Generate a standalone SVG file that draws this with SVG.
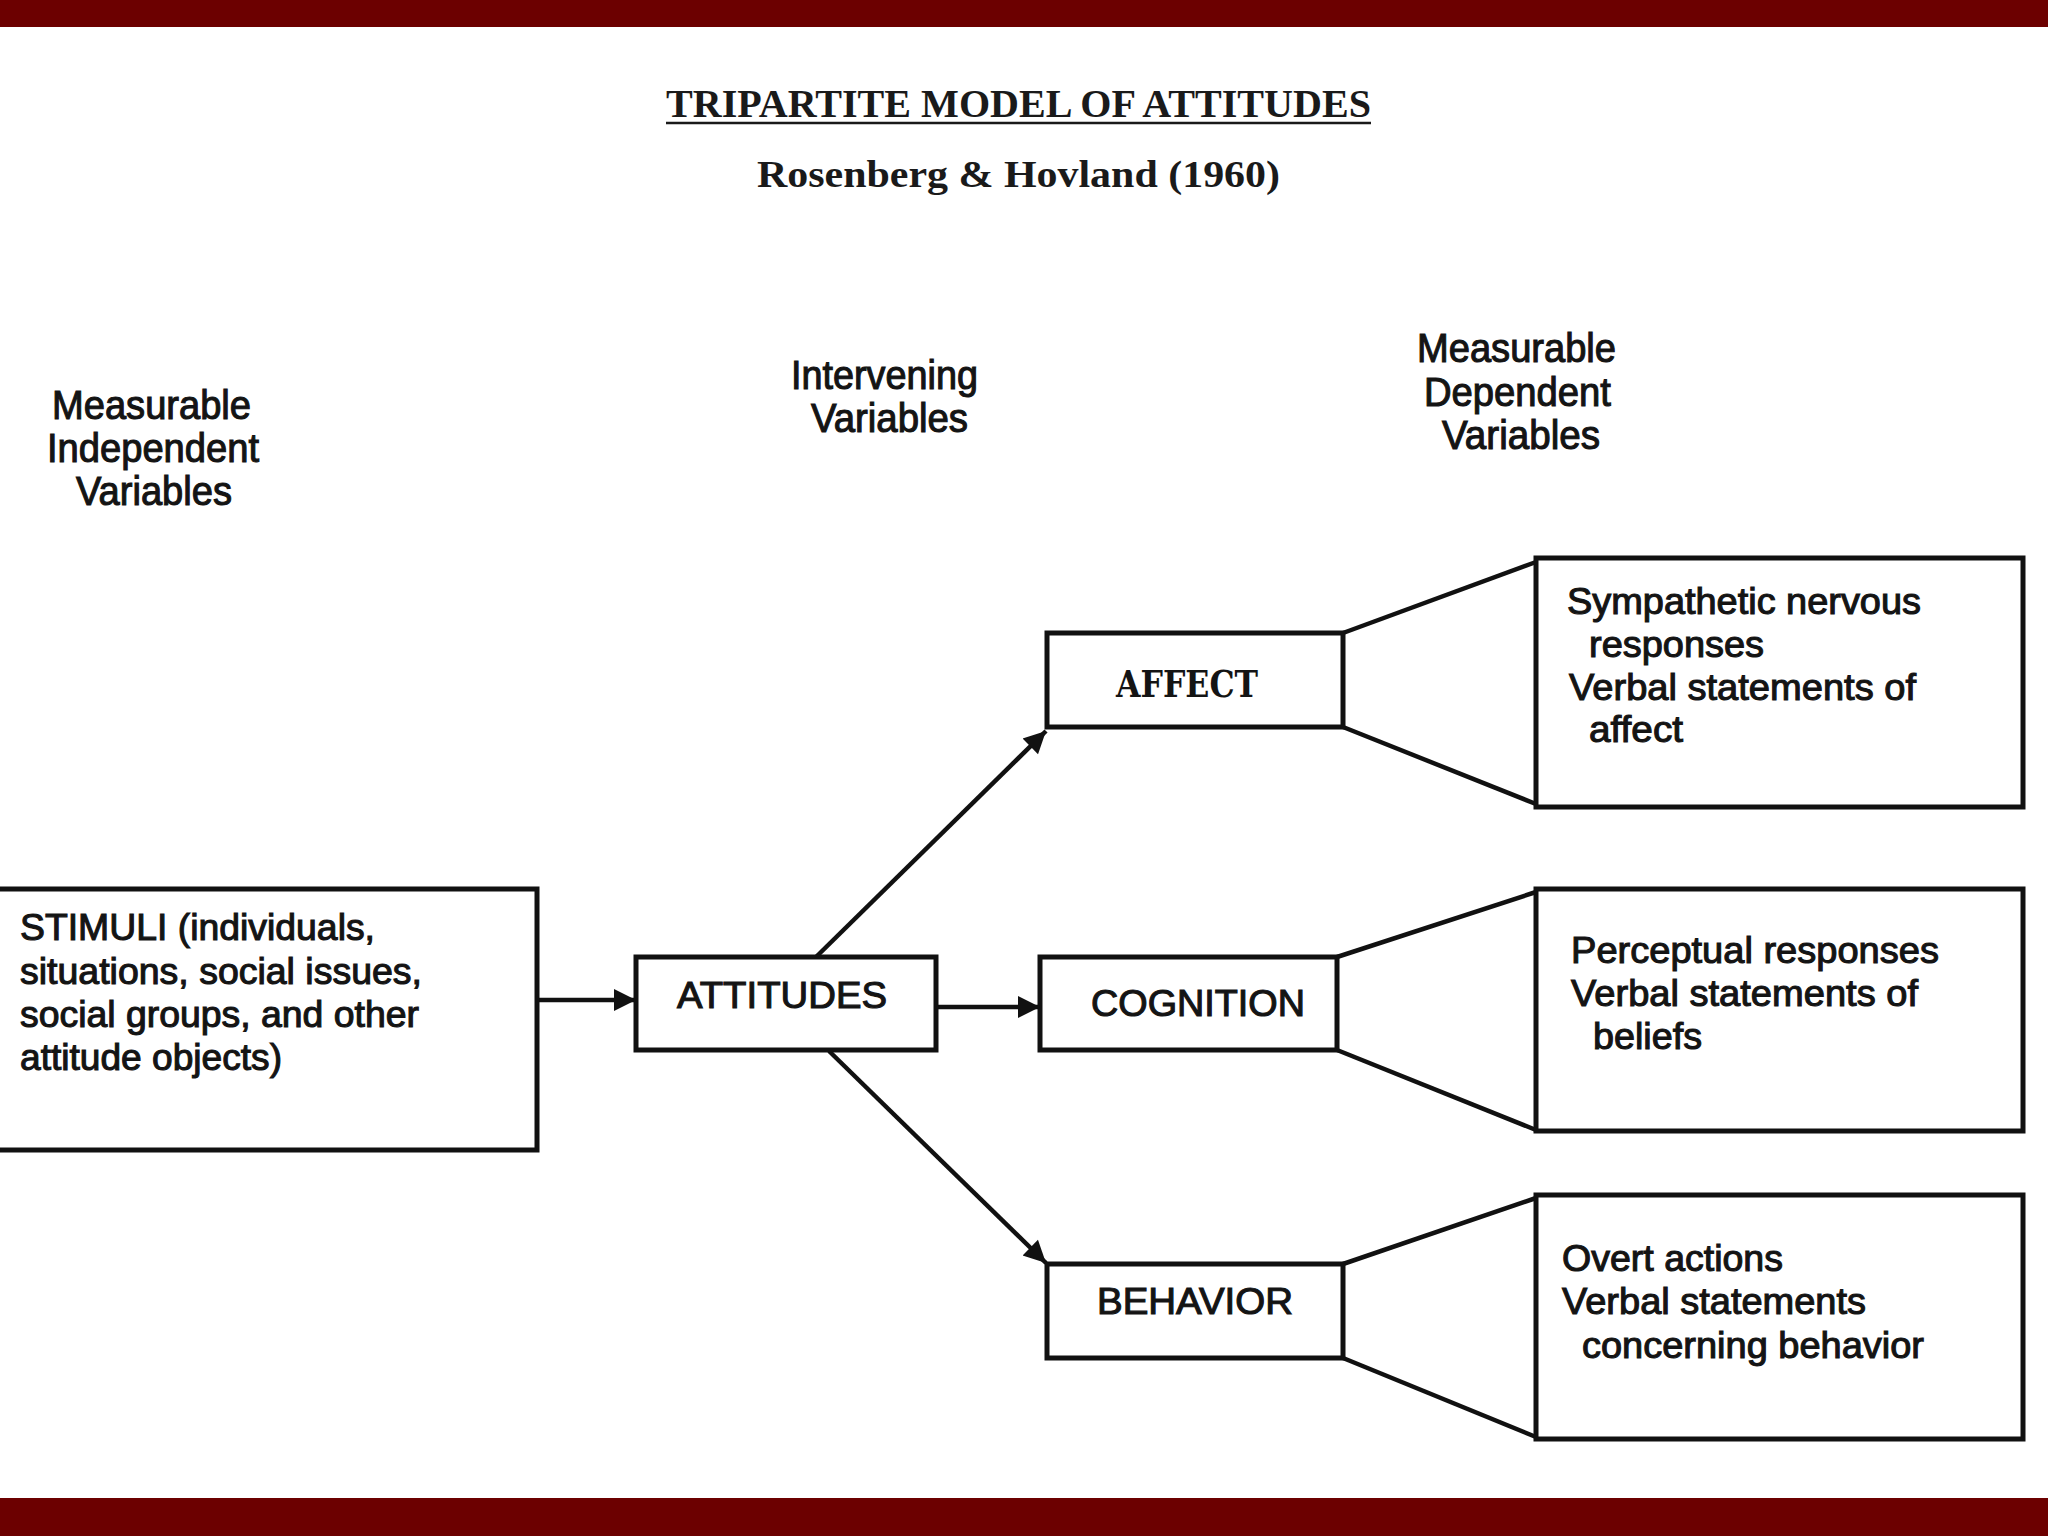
<svg xmlns="http://www.w3.org/2000/svg" width="2048" height="1536" viewBox="0 0 2048 1536">
  <style>
    .bar { fill: #6c0000; }
    .box { fill: #ffffff; stroke: #111111; stroke-width: 5; }
    .edge { fill: none; stroke: #111111; stroke-width: 4.5; }
    .conn { fill: none; stroke: #111111; stroke-width: 4.5; }
    .sans { font-family: "Liberation Sans", Arial, sans-serif; fill: #141414; stroke: #141414; stroke-width: 1.1; }
    .hdr { font-size: 40px; }
    .body { font-size: 37px; }
    .slab { font-family: "DejaVu Serif", "Liberation Serif", serif; font-weight: bold; font-size: 38px; fill: #141414; }
    .title { font-family: "Liberation Serif", "Times New Roman", serif; font-weight: bold; fill: #1a1a1a; }
  </style>
  <defs>
    <marker id="arrow" viewBox="0 0 10 10" refX="10" refY="5" markerWidth="34" markerHeight="22" markerUnits="userSpaceOnUse" orient="auto">
      <path d="M0,0 L10,5 L0,10 Z" fill="#111111"/>
    </marker>
  </defs>

  <rect width="2048" height="1536" fill="#ffffff"/>
  <rect class="bar" x="0" y="0" width="2048" height="27"/>
  <rect class="bar" x="0" y="1498" width="2048" height="38"/>

  <g id="title">
    <text class="title" x="666" y="117" font-size="40" textLength="705" lengthAdjust="spacingAndGlyphs">TRIPARTITE MODEL OF ATTITUDES</text>
    <line x1="666" y1="123" x2="1371" y2="123" stroke="#1a1a1a" stroke-width="2.5"/>
    <text class="title" x="757" y="187" font-size="38" textLength="523" lengthAdjust="spacingAndGlyphs">Rosenberg &amp; Hovland (1960)</text>
  </g>

  <g id="header-independent" class="sans hdr">
    <text x="52" y="419" textLength="199" lengthAdjust="spacingAndGlyphs">Measurable</text>
    <text x="47" y="462" textLength="212" lengthAdjust="spacingAndGlyphs">Independent</text>
    <text x="76" y="505" textLength="156" lengthAdjust="spacingAndGlyphs">Variables</text>
  </g>
  <g id="header-intervening" class="sans hdr">
    <text x="791" y="389" textLength="187" lengthAdjust="spacingAndGlyphs">Intervening</text>
    <text x="811" y="432" textLength="157" lengthAdjust="spacingAndGlyphs">Variables</text>
  </g>
  <g id="header-dependent" class="sans hdr">
    <text x="1417" y="362" textLength="199" lengthAdjust="spacingAndGlyphs">Measurable</text>
    <text x="1424" y="406" textLength="187" lengthAdjust="spacingAndGlyphs">Dependent</text>
    <text x="1442" y="449" textLength="158" lengthAdjust="spacingAndGlyphs">Variables</text>
  </g>

  <g id="connectors">
    <line class="conn" x1="537" y1="1000" x2="636" y2="1000" marker-end="url(#arrow)"/>
    <line class="conn" x1="936" y1="1007" x2="1040" y2="1007" marker-end="url(#arrow)"/>
    <line class="conn" x1="816" y1="957" x2="1046" y2="731" marker-end="url(#arrow)"/>
    <line class="conn" x1="829" y1="1051" x2="1046" y2="1263" marker-end="url(#arrow)"/>
    <line class="edge" x1="1343" y1="633" x2="1536" y2="562"/>
    <line class="edge" x1="1343" y1="727" x2="1536" y2="804"/>
    <line class="edge" x1="1337" y1="957" x2="1536" y2="892"/>
    <line class="edge" x1="1337" y1="1050" x2="1536" y2="1130"/>
    <line class="edge" x1="1343" y1="1264" x2="1536" y2="1198"/>
    <line class="edge" x1="1343" y1="1358" x2="1536" y2="1437"/>
  </g>

  <g id="stimuli">
    <rect class="box" x="-4" y="889" width="541" height="261"/>
    <g class="sans body">
      <text x="20" y="940" textLength="355" lengthAdjust="spacingAndGlyphs">STIMULI (individuals,</text>
      <text x="20" y="984" textLength="402" lengthAdjust="spacingAndGlyphs">situations, social issues,</text>
      <text x="20" y="1027" textLength="399" lengthAdjust="spacingAndGlyphs">social groups, and other</text>
      <text x="20" y="1070" textLength="262" lengthAdjust="spacingAndGlyphs">attitude objects)</text>
    </g>
  </g>

  <g id="attitudes">
    <rect class="box" x="636" y="957" width="300" height="93"/>
    <text class="sans body" x="677" y="1008" textLength="210" lengthAdjust="spacingAndGlyphs">ATTITUDES</text>
  </g>

  <g id="affect">
    <rect class="box" x="1047" y="633" width="296" height="94"/>
    <text class="slab" x="1116" y="697" textLength="142" lengthAdjust="spacingAndGlyphs">AFFECT</text>
  </g>

  <g id="cognition">
    <rect class="box" x="1040" y="957" width="297" height="93"/>
    <text class="sans body" x="1091" y="1016" textLength="214" lengthAdjust="spacingAndGlyphs">COGNITION</text>
  </g>

  <g id="behavior">
    <rect class="box" x="1047" y="1264" width="296" height="94"/>
    <text class="sans body" x="1097" y="1314" textLength="196" lengthAdjust="spacingAndGlyphs">BEHAVIOR</text>
  </g>

  <g id="affect-measures">
    <rect class="box" x="1536" y="558" width="487" height="249"/>
    <g class="sans body">
      <text x="1567" y="614" textLength="354" lengthAdjust="spacingAndGlyphs">Sympathetic nervous</text>
      <text x="1589" y="657" textLength="175" lengthAdjust="spacingAndGlyphs">responses</text>
      <text x="1569" y="700" textLength="347" lengthAdjust="spacingAndGlyphs">Verbal statements of</text>
      <text x="1589" y="742" textLength="94" lengthAdjust="spacingAndGlyphs">affect</text>
    </g>
  </g>

  <g id="cognition-measures">
    <rect class="box" x="1536" y="889" width="487" height="242"/>
    <g class="sans body">
      <text x="1571" y="963" textLength="368" lengthAdjust="spacingAndGlyphs">Perceptual responses</text>
      <text x="1571" y="1006" textLength="347" lengthAdjust="spacingAndGlyphs">Verbal statements of</text>
      <text x="1593" y="1049" textLength="109" lengthAdjust="spacingAndGlyphs">beliefs</text>
    </g>
  </g>

  <g id="behavior-measures">
    <rect class="box" x="1536" y="1195" width="487" height="244"/>
    <g class="sans body">
      <text x="1562" y="1271" textLength="221" lengthAdjust="spacingAndGlyphs">Overt actions</text>
      <text x="1562" y="1314" textLength="304" lengthAdjust="spacingAndGlyphs">Verbal statements</text>
      <text x="1582" y="1358" textLength="342" lengthAdjust="spacingAndGlyphs">concerning behavior</text>
    </g>
  </g>
</svg>
